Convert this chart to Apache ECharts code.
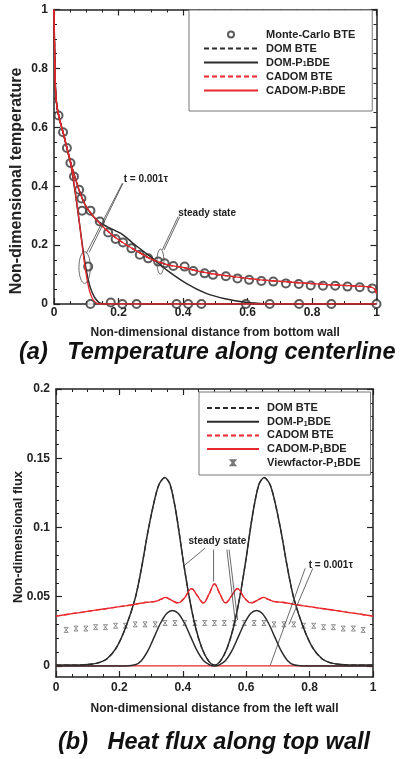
<!DOCTYPE html>
<html>
<head>
<meta charset="utf-8">
<script src="https://cdn.jsdelivr.net/npm/echarts@6/dist/echarts.min.js"></script>
<style>
  html, body { margin: 0; padding: 0; background: #fff; }
  #chart { width: 409px; height: 759px; }
</style>
</head>
<body>
<div id="chart"></div>
<script>
// (a) temperature along centerline
const tempSteadyCadom = [[0,1],[0.002,0.85],[0.005,0.72],[0.01,0.665],[0.02,0.615],[0.03,0.575],[0.04,0.53],[0.05,0.487],[0.06,0.448],[0.07,0.413],[0.08,0.38],[0.09,0.352],[0.1,0.33],[0.12,0.3],[0.14,0.276],[0.16,0.254],[0.18,0.235],[0.2,0.218],[0.23,0.197],[0.26,0.178],[0.3,0.153],[0.35,0.134],[0.4,0.124],[0.45,0.111],[0.5,0.101],[0.55,0.094],[0.6,0.087],[0.65,0.081],[0.7,0.077],[0.75,0.073],[0.8,0.069],[0.85,0.066],[0.9,0.063],[0.95,0.06],[0.98,0.058],[0.995,0.05],[1,0.035]];
const tempSteadyDom = [[0,1],[0.002,0.85],[0.005,0.72],[0.01,0.665],[0.02,0.615],[0.03,0.575],[0.04,0.53],[0.05,0.487],[0.06,0.448],[0.07,0.413],[0.08,0.38],[0.09,0.352],[0.1,0.33],[0.12,0.3],[0.14,0.278],[0.164,0.263],[0.19,0.249],[0.214,0.235],[0.245,0.206],[0.27,0.185],[0.3,0.16],[0.35,0.115],[0.41,0.07],[0.47,0.037],[0.53,0.018],[0.6,0.005],[0.66,0.001],[0.72,0],[1,0]];
const tempTransDom = [[0,1],[0.002,0.85],[0.005,0.72],[0.01,0.665],[0.02,0.615],[0.03,0.575],[0.04,0.53],[0.05,0.487],[0.06,0.42],[0.07,0.345],[0.08,0.265],[0.09,0.185],[0.1,0.115],[0.11,0.065],[0.12,0.035],[0.13,0.016],[0.14,0.005],[0.15,0.001],[0.16,0],[1,0]];
const tempTransCadom = [[0,1],[0.002,0.85],[0.005,0.72],[0.01,0.665],[0.02,0.615],[0.03,0.575],[0.04,0.53],[0.05,0.487],[0.06,0.425],[0.07,0.35],[0.08,0.265],[0.09,0.175],[0.1,0.1],[0.11,0.045],[0.12,0.017],[0.13,0.004],[0.14,0],[1,0]];
const tempMonteCarlo = [[0.014,0.64],[0.028,0.583],[0.04,0.53],[0.051,0.479],[0.062,0.433],[0.078,0.388],[0.085,0.358],[0.087,0.317],[0.113,0.317],[0.142,0.28],[0.168,0.243],[0.191,0.221],[0.214,0.209],[0.24,0.189],[0.266,0.167],[0.292,0.155],[0.323,0.144],[0.343,0.138],[0.37,0.129],[0.405,0.127],[0.432,0.112],[0.467,0.104],[0.493,0.099],[0.533,0.094],[0.569,0.087],[0.605,0.082],[0.643,0.078],[0.68,0.076],[0.719,0.07],[0.759,0.068],[0.796,0.063],[0.834,0.062],[0.872,0.062],[0.91,0.059],[0.948,0.057],[0.987,0.053],
  [0.106,0.127],[0.113,0],[0.176,0.005],[0.212,0],[0.256,0],[0.38,0],[0.416,0],[0.457,0],[0.595,0],[0.669,0],[0.76,0],[0.86,0],[1,0]];
const tempTicks = [0, 0.2, 0.4, 0.6, 0.8, 1];

// (b) heat flux along top wall
const fluxSteadyDom = [[0,0.0006],[0.05,0.0006],[0.1,0.001],[0.13,0.002],[0.16,0.005],[0.19,0.013],[0.22,0.028],[0.25,0.049],[0.27,0.071],[0.29,0.097],[0.31,0.119],[0.325,0.131],[0.343,0.136],[0.36,0.131],[0.38,0.109],[0.4,0.078],[0.42,0.05],[0.44,0.028],[0.46,0.013],[0.48,0.004],[0.5,0.0005],
  [0.52,0.004],[0.54,0.013],[0.56,0.028],[0.58,0.05],[0.6,0.078],[0.62,0.109],[0.64,0.131],[0.657,0.136],[0.675,0.131],[0.69,0.119],[0.71,0.097],[0.73,0.071],[0.75,0.049],[0.78,0.028],[0.81,0.013],[0.84,0.005],[0.87,0.002],[0.9,0.001],[0.95,0.0006],[1,0.0006]];
const fluxTransDom = [[0,0],[0.22,0],[0.25,0.0008],[0.27,0.004],[0.29,0.011],[0.31,0.021],[0.33,0.031],[0.35,0.038],[0.367,0.04],[0.385,0.038],[0.405,0.031],[0.425,0.021],[0.445,0.011],[0.465,0.004],[0.485,0.0008],[0.5,0],
  [0.515,0.0008],[0.535,0.004],[0.555,0.011],[0.575,0.021],[0.595,0.031],[0.615,0.038],[0.633,0.04],[0.65,0.038],[0.67,0.031],[0.69,0.021],[0.71,0.011],[0.73,0.004],[0.75,0.0008],[0.78,0],[1,0]];
const fluxSteadyCadom = [[0,0.036],[0.05,0.0377],[0.1,0.0394],[0.15,0.0411],[0.2,0.0428],[0.25,0.0445],[0.28,0.0458],[0.31,0.0465],[0.33,0.048],[0.345,0.0495],[0.36,0.048],[0.385,0.0455],[0.405,0.049],[0.428,0.0558],[0.445,0.051],[0.465,0.0455],[0.483,0.052],[0.5,0.0592],[0.517,0.052],[0.535,0.0455],[0.555,0.051],[0.572,0.0558],[0.595,0.049],[0.615,0.0455],[0.64,0.048],[0.655,0.0495],[0.67,0.048],[0.69,0.0465],[0.72,0.0458],[0.75,0.0445],[0.8,0.0428],[0.85,0.0411],[0.9,0.0394],[0.95,0.0377],[1,0.036]];
const fluxTransCadom = [[0,0],[0.5,0],[1,0]];
const fluxViewX = [0.032,0.063,0.094,0.125,0.156,0.188,0.219,0.25,0.281,0.313,0.344,0.375,0.406,0.438,0.469,0.5,0.531,0.563,0.594,0.625,0.656,0.688,0.719,0.75,0.781,0.813,0.844,0.875,0.906,0.938,0.969];
const fluxViewY = [0.026,0.027,0.027,0.028,0.028,0.029,0.029,0.03,0.03,0.03,0.031,0.031,0.031,0.031,0.031,0.031,0.031,0.031,0.031,0.031,0.031,0.03,0.03,0.03,0.029,0.029,0.028,0.028,0.027,0.027,0.026];
const fluxTicks = [0, 0.05, 0.1, 0.15, 0.2];
const fluxMinorTicks = [0.01,0.02,0.03,0.04,0.06,0.07,0.08,0.09,0.11,0.12,0.13,0.14,0.16,0.17,0.18,0.19];

// annotations (data coordinates)
const tempNotes = [{ text: 't = 0.001τ', at: [0.216, 0.422] }, { text: 'steady state', at: [0.385, 0.308] }];
const tempLeaders = [[[0.214, 0.41], [0.109, 0.175]], [[0.212, 0.41], [0.1, 0.172]], [[0.385, 0.297], [0.336, 0.184]], [[0.39, 0.296], [0.341, 0.183]]];
const tempRings = [[0.095, 0.124], [0.33, 0.144]];
const fluxNotes = [{ text: 'steady state', at: [0.418, 0.0898] }, { text: 't = 0.001τ', at: [0.797, 0.073] }];
const fluxLeaders = [[[0.47, 0.085], [0.407, 0.073]], [[0.497, 0.084], [0.497, 0.061]], [[0.539, 0.084], [0.565, 0.033]], [[0.546, 0.084], [0.573, 0.033]], [[0.786, 0.0705], [0.676, 0.0005]], [[0.81, 0.0705], [0.735, 0.03]]];

const FONT = 'Liberation Sans, Arial, sans-serif';
const BLACK = '#2b2b2b';
const RED = '#e8282c';
const AX = '#222';

const chart = echarts.init(document.getElementById('chart'));

const richSub = {
  s: { fontSize: 7, fontWeight: 'bold', fontFamily: FONT, color: AX, verticalAlign: 'bottom', lineHeight: 8 }
};
const legendFmt = name => name.replace('P1', 'P{s|1}');
// line entries: hide the dot ECharts puts in the middle of line icons
const lineEntry = name => ({ name: name, itemStyle: { color: 'rgba(0,0,0,0)', borderWidth: 0, opacity: 0 } });

const frameLine = { show: true, onZero: false, lineStyle: { color: AX, width: 1.5 } };
const majorTick = { show: true, inside: true, length: 6, lineStyle: { color: AX, width: 1.2 } };
const minorTick = { show: true, splitNumber: 4, length: 3, lineStyle: { color: AX, width: 1 } };
const labelStyle = { fontFamily: FONT, fontWeight: 'bold', fontSize: 12, color: AX };

function xAx(grid, pos, labels, margin, name, gap) {
  return {
    type: 'value', gridIndex: grid, position: pos, min: 0, max: 1, interval: 0.2,
    axisLine: frameLine, axisTick: majorTick, minorTick: minorTick, splitLine: { show: false },
    axisLabel: Object.assign({ show: labels, margin: margin }, labelStyle),
    name: name || '', nameLocation: 'middle', nameGap: gap || 0,
    nameTextStyle: { fontFamily: FONT, fontWeight: 'bold', fontSize: 12, color: AX }
  };
}

const series = [
  // (a)
  { name: 'DOM BTE', type: 'line', xAxisIndex: 0, yAxisIndex: 0, data: tempSteadyCadom, symbol: 'none', smooth: 0.3, lineStyle: { color: BLACK, width: 1.3, type: [5, 3] }, itemStyle: { color: BLACK } },
  { name: 'CADOM BTE', type: 'line', xAxisIndex: 0, yAxisIndex: 0, data: tempSteadyCadom, symbol: 'none', smooth: 0.3, lineStyle: { color: RED, width: 1.3, type: [5, 3] }, itemStyle: { color: RED } },
  { name: 'DOM-P1BDE', type: 'line', xAxisIndex: 0, yAxisIndex: 0, data: tempSteadyDom, symbol: 'none', smooth: 0.3, lineStyle: { color: BLACK, width: 1.5 }, itemStyle: { color: BLACK } },
  { name: 'DOM-P1BDE', type: 'line', xAxisIndex: 0, yAxisIndex: 0, data: tempTransDom, symbol: 'none', smooth: 0.3, lineStyle: { color: BLACK, width: 1.5 }, itemStyle: { color: BLACK } },
  { name: 'CADOM-P1BDE', type: 'line', xAxisIndex: 0, yAxisIndex: 0, data: tempTransCadom, symbol: 'none', smooth: 0.3, lineStyle: { color: RED, width: 1.3 }, itemStyle: { color: RED } },
  { name: 'CADOM-P1BDE', type: 'line', xAxisIndex: 0, yAxisIndex: 0, data: tempSteadyCadom, symbol: 'none', smooth: 0.3, lineStyle: { color: RED, width: 1.3 }, itemStyle: { color: RED } },
  { name: 'Monte-Carlo BTE', type: 'scatter', xAxisIndex: 0, yAxisIndex: 0, data: tempMonteCarlo, symbol: 'emptyCircle', symbolSize: 8, itemStyle: { color: '#333', borderColor: '#333', borderWidth: 1.1 } },
  // (b)
  { name: 'DOM BTE', type: 'line', xAxisIndex: 2, yAxisIndex: 2, data: fluxSteadyDom, symbol: 'none', smooth: 0.3, lineStyle: { color: BLACK, width: 1.3, type: [5, 3] }, itemStyle: { color: BLACK } },
  { name: 'CADOM BTE', type: 'line', xAxisIndex: 2, yAxisIndex: 2, data: fluxSteadyCadom, symbol: 'none', smooth: 0.3, lineStyle: { color: RED, width: 1.3, type: [5, 3] }, itemStyle: { color: RED } },
  { name: 'CADOM-P1BDE', type: 'line', xAxisIndex: 2, yAxisIndex: 2, data: fluxTransCadom, symbol: 'none', lineStyle: { color: RED, width: 1.3 }, itemStyle: { color: RED } },
  { name: 'DOM-P1BDE', type: 'line', xAxisIndex: 2, yAxisIndex: 2, data: fluxSteadyDom, symbol: 'none', smooth: 0.3, lineStyle: { color: BLACK, width: 1.5 }, itemStyle: { color: BLACK } },
  { name: 'DOM-P1BDE', type: 'line', xAxisIndex: 2, yAxisIndex: 2, data: fluxTransDom, symbol: 'none', smooth: 0.3, lineStyle: { color: BLACK, width: 1.5 }, itemStyle: { color: BLACK } },
  { name: 'CADOM-P1BDE', type: 'line', xAxisIndex: 2, yAxisIndex: 2, data: fluxSteadyCadom, symbol: 'none', smooth: 0.4, lineStyle: { color: RED, width: 1.3 }, itemStyle: { color: RED } },
  { name: 'Viewfactor-P1BDE', type: 'scatter', xAxisIndex: 2, yAxisIndex: 2, data: fluxViewX.map((x, i) => [x, fluxViewY[i]]), symbol: 'path://M0,0L10,0L0,12L10,12Z', symbolSize: [4, 5], itemStyle: { color: 'rgba(0,0,0,0)', borderColor: '#555', borderWidth: 0.8 } }
];

const option = {
  animation: false,
  backgroundColor: '#fff',
  grid: [
    { left: 54, top: 9.5, width: 322.5, height: 294.5 },
    { left: 56, top: 389, width: 317, height: 288 }
  ],
  xAxis: [
    xAx(0, 'bottom', true, 3, 'Non-dimensional distance from bottom wall', 23),
    xAx(0, 'top', false, 3),
    xAx(1, 'bottom', true, 5, 'Non-dimensional distance from the left wall', 26),
    xAx(1, 'top', false, 3)
  ],
  yAxis: [
    { type: 'value', gridIndex: 0, position: 'left', min: 0, max: 1, interval: 0.2, axisLine: frameLine, axisTick: majorTick, minorTick: minorTick, splitLine: { show: false }, axisLabel: Object.assign({ margin: 6 }, labelStyle) },
    { type: 'value', gridIndex: 0, position: 'right', min: 0, max: 1, interval: 0.2, axisLine: frameLine, axisTick: majorTick, minorTick: minorTick, splitLine: { show: false }, axisLabel: { show: false } },
    { type: 'value', gridIndex: 1, position: 'left', min: -0.008, max: 0.2, axisLine: frameLine, axisTick: Object.assign({ customValues: fluxTicks }, majorTick), splitLine: { show: false }, axisLabel: Object.assign({ margin: 6, customValues: fluxTicks }, labelStyle) },
    { type: 'value', gridIndex: 1, position: 'left', min: -0.008, max: 0.2, axisLine: { show: false, onZero: false }, axisTick: { show: true, inside: true, length: 3, customValues: fluxMinorTicks, lineStyle: { color: AX, width: 1 } }, splitLine: { show: false }, axisLabel: { show: false } },
    { type: 'value', gridIndex: 1, position: 'right', min: -0.008, max: 0.2, axisLine: frameLine, axisTick: Object.assign({ customValues: fluxTicks }, majorTick), splitLine: { show: false }, axisLabel: { show: false } },
    { type: 'value', gridIndex: 1, position: 'right', min: -0.008, max: 0.2, axisLine: { show: false, onZero: false }, axisTick: { show: true, inside: true, length: 3, customValues: fluxMinorTicks, lineStyle: { color: AX, width: 1 } }, splitLine: { show: false }, axisLabel: { show: false } }
  ],
  legend: [
    {
      data: ['Monte-Carlo BTE', lineEntry('DOM BTE'), lineEntry('DOM-P1BDE'), lineEntry('CADOM BTE'), lineEntry('CADOM-P1BDE')],
      orient: 'vertical', left: 189, top: 10, padding: [19, 17, 15, 14],
      backgroundColor: '#fff', borderColor: '#777', borderWidth: 1, borderRadius: 0,
      itemWidth: 54, itemHeight: 6, itemGap: 3, selectedMode: false,
      formatter: legendFmt,
      textStyle: { fontFamily: FONT, fontWeight: 'bold', fontSize: 11, color: AX, lineHeight: 11, padding: [0, 0, 0, 3], rich: richSub }
    },
    {
      data: [lineEntry('DOM BTE'), lineEntry('DOM-P1BDE'), lineEntry('CADOM BTE'), lineEntry('CADOM-P1BDE'), 'Viewfactor-P1BDE'],
      orient: 'vertical', left: 199, top: 392, padding: [10.5, 10, 6.7, 7],
      backgroundColor: '#fff', borderColor: '#777', borderWidth: 1, borderRadius: 0,
      itemWidth: 52, itemHeight: 5, itemGap: 2.7, selectedMode: false,
      formatter: legendFmt,
      textStyle: { fontFamily: FONT, fontWeight: 'bold', fontSize: 11, color: AX, lineHeight: 11, padding: [0, 0, 0, 3], rich: richSub }
    }
  ],
  title: [
    { text: '(a)   Temperature along centerline', left: 19, top: 341, padding: 0, textStyle: { fontFamily: FONT, fontWeight: 'bold', fontStyle: 'italic', fontSize: 23.5, color: '#111' } },
    { text: '(b)   Heat flux along top wall', left: 58, top: 731, padding: 0, textStyle: { fontFamily: FONT, fontWeight: 'bold', fontStyle: 'italic', fontSize: 23.5, color: '#111' } }
  ],
  series: series
};

chart.setOption(option);

// annotations: leader lines, rings and labels placed through the axes
const g = [];
const px = (gi, p) => chart.convertToPixel({ gridIndex: gi }, p);
const noteFont = 'bold 10px ' + FONT;
tempNotes.forEach(n => {
  const p = px(0, n.at);
  g.push({ type: 'text', x: p[0], y: p[1], style: { text: n.text, font: noteFont, fill: AX, align: 'left', verticalAlign: 'middle' }, z: 100 });
});
fluxNotes.forEach(n => {
  const p = px(1, n.at);
  g.push({ type: 'text', x: p[0], y: p[1], style: { text: n.text, font: noteFont, fill: AX, align: 'left', verticalAlign: 'middle' }, z: 100 });
});
const addLines = (gi, list) => list.forEach(l => {
  const a = px(gi, l[0]), b = px(gi, l[1]);
  g.push({ type: 'line', shape: { x1: a[0], y1: a[1], x2: b[0], y2: b[1] }, style: { stroke: '#444', lineWidth: 0.8 }, z: 100 });
});
addLines(0, tempLeaders);
addLines(1, fluxLeaders);
const ringSize = [[5.7, 15.8], [3.5, 12.5]];
tempRings.forEach((c, i) => {
  const p = px(0, c);
  g.push({ type: 'ellipse', shape: { cx: p[0], cy: p[1], rx: ringSize[i][0], ry: ringSize[i][1] }, style: { fill: 'none', stroke: '#444', lineWidth: 0.8 }, z: 100 });
});
// rotated y axis titles
g.push({ type: 'text', x: 16.7, y: 181, rotation: Math.PI / 2, style: { text: 'Non-dimensional temperature', font: 'bold 16px ' + FONT, fill: AX, align: 'center', verticalAlign: 'middle' } });
g.push({ type: 'text', x: 18, y: 537, rotation: Math.PI / 2, style: { text: 'Non-dimensional flux', font: 'bold 13px ' + FONT, fill: AX, align: 'center', verticalAlign: 'middle' } });

chart.setOption({ graphic: g });
</script>
</body>
</html>
